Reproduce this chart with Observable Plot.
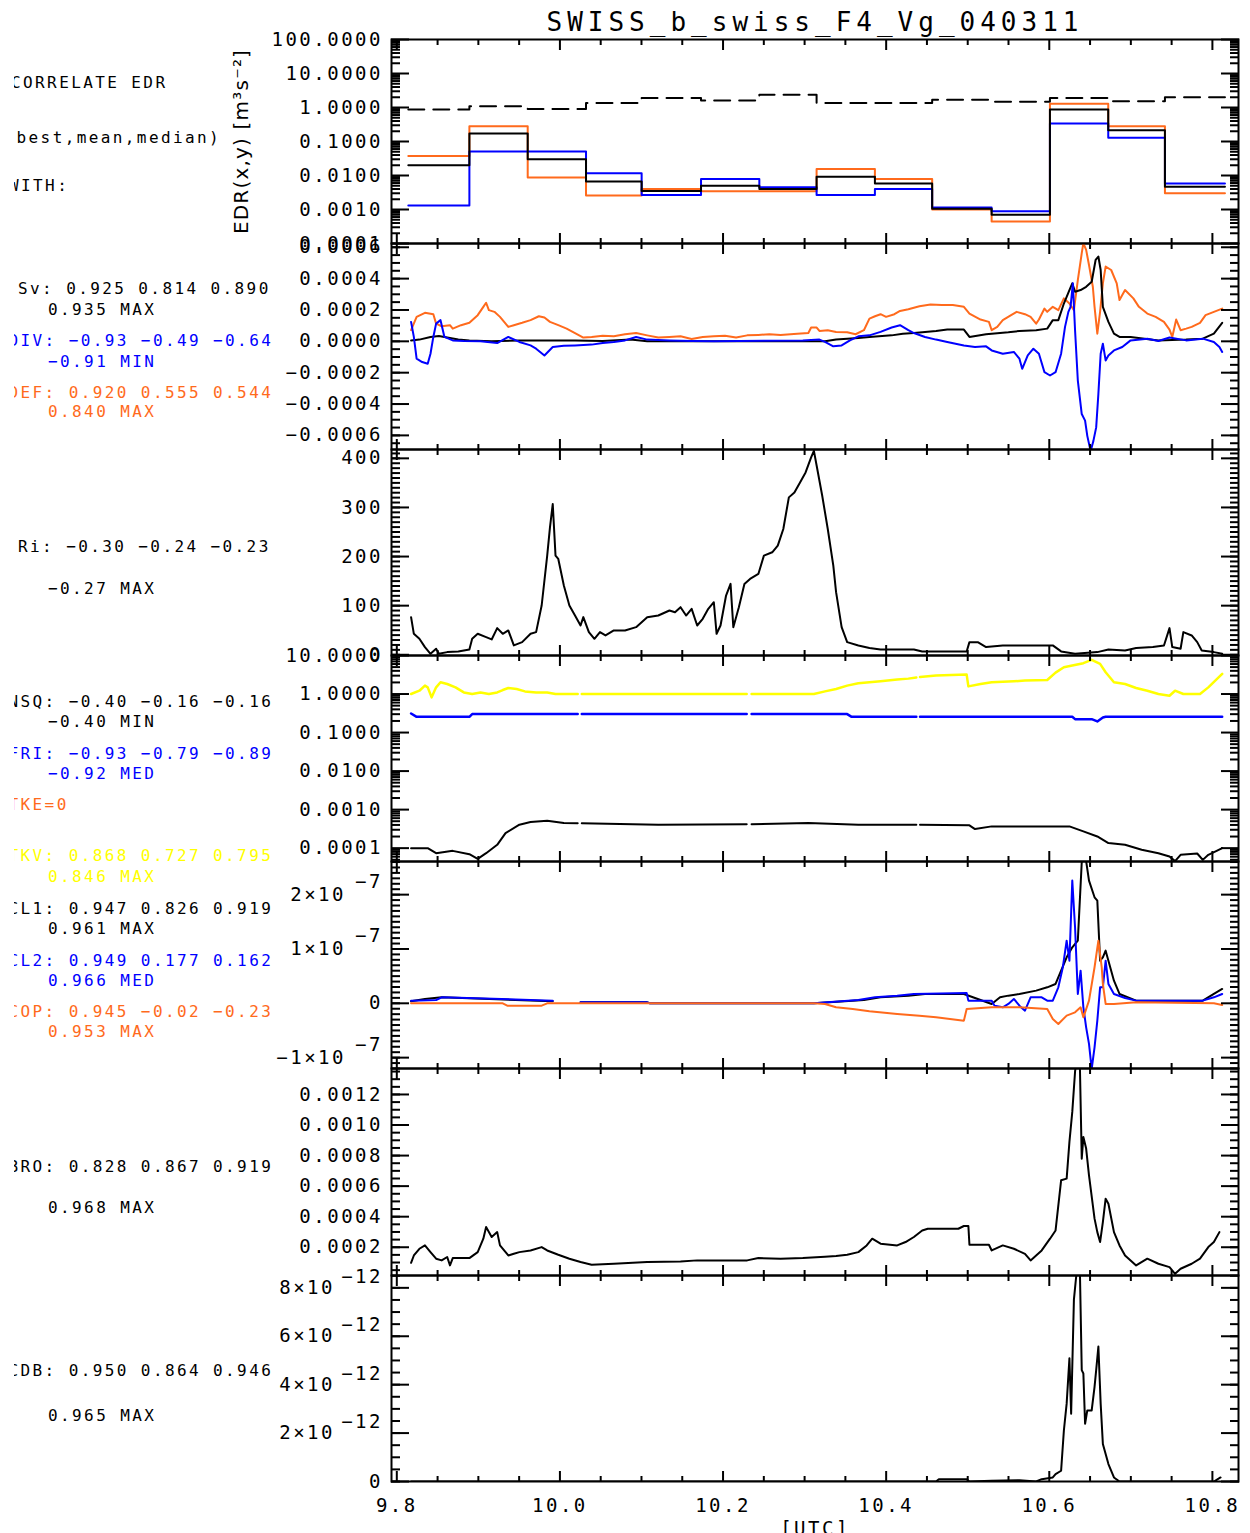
<!DOCTYPE html>
<html>
<head>
<meta charset="utf-8">
<script src="https://cdn.jsdelivr.net/npm/d3@7"></script>
<script src="https://cdn.jsdelivr.net/npm/@observablehq/plot@0.6"></script>
<style>
  html, body { margin: 0; padding: 0; background: #fff; }
  #fig { position: relative; width: 1250px; height: 1533px; overflow: hidden; background: #fff; }
  #fig svg { position: absolute; left: 0; top: 0; }
</style>
</head>
<body>
<div id="fig"></div>
<script>
// ---------- page geometry ----------
const W = 1250, H = 1533;
const FRAME_LEFT = 391, FRAME_RIGHT = 1238;
const X_DOMAIN = [9.7935, 10.832];

const BLACK = "#000000", BLUE = "#0000ff", ORANGE = "#ff6a1c", YELLOW = "#ffff00";
const MONO = "'DejaVu Sans Mono', 'Liberation Mono', monospace";

// ---------- time axis ----------
const xMajor = [9.8, 10.0, 10.2, 10.4, 10.6, 10.8];
const xMinor = [9.85, 9.9, 9.95, 10.05, 10.1, 10.15, 10.25, 10.3, 10.35, 10.45, 10.5, 10.55, 10.65, 10.7, 10.75];

const titleText = "SWISS_b_swiss_F4_Vg_040311";
const xTitle = "[UTC]";
const edrLabel = "EDR(x,y) [m³s⁻²]";

// ---------- panel 1: EDR per averaging bin ----------
const binEdges = [9.8141, 9.889, 9.9605, 10.032, 10.1002, 10.173, 10.2445, 10.3147, 10.3862, 10.4564, 10.5293, 10.6008, 10.6723, 10.7418, 10.8154];
const edrOrange = [0.0377, 0.283, 0.0088, 0.00257, 0.00401, 0.00343, 0.00343, 0.0154, 0.00785, 0.0010, 0.000447, 1.30, 0.283, 0.0030];
const edrBlack  = [0.0201, 0.173, 0.0301, 0.00671, 0.0035, 0.00501, 0.0040, 0.00918, 0.00586, 0.00105, 0.0007, 0.867, 0.216, 0.00469];
const edrBlue   = [0.00131, 0.0504, 0.0504, 0.0117, 0.00268, 0.00785, 0.00449, 0.00268, 0.0040, 0.00114, 0.00089, 0.338, 0.129, 0.00586];
const edrDashed = [0.867, 1.08, 0.906, 1.36, 1.90, 1.62, 2.37, 1.36, 1.36, 1.70, 1.48, 1.90, 1.52, 1.99];

// ---------- panel 2: Sv / DIV / DEF  (units of 1e-4) ----------
const svBlack = [[9.8175,0.06],[9.8277,0.11],[9.8413,0.28],[9.8516,0.34],[9.8618,0.24],[9.8754,0.11],[9.8890,0.06],[9.9163,0.0],[9.9503,0.06],[9.9844,0.06],[10.0185,0.06],[10.0525,0.02],[10.0866,0.11],[10.1070,0.0],[10.3250,0.0],[10.3386,0.11],[10.3659,0.21],[10.3795,0.28],[10.4067,0.38],[10.4204,0.49],[10.4340,0.53],[10.4612,0.66],[10.4749,0.75],[10.4953,0.75],[10.5021,0.28],[10.5225,0.45],[10.5294,0.49],[10.5498,0.58],[10.5634,0.66],[10.5839,0.71],[10.5975,0.81],[10.6043,1.35],[10.6111,1.35],[10.6179,2.41],[10.6247,3.27],[10.6282,3.70],[10.6316,3.16],[10.6384,3.27],[10.6452,3.48],[10.6520,3.80],[10.6568,5.19],[10.6602,5.41],[10.6630,4.55],[10.6657,2.20],[10.6725,1.24],[10.6793,0.49],[10.6861,0.28],[10.6997,0.28],[10.7338,0.06],[10.7678,0.11],[10.7882,0.17],[10.8018,0.49],[10.8120,1.18]];
const divBlue = [[9.8175,1.24],[9.8209,0.28],[9.8243,-1.11],[9.8311,-1.32],[9.8379,-1.43],[9.8413,-0.79],[9.8448,0.28],[9.8482,1.13],[9.8536,1.35],[9.8584,0.28],[9.8686,0.06],[9.8822,0.02],[9.9026,0.0],[9.9231,-0.11],[9.9367,0.28],[9.9503,-0.04],[9.9640,-0.26],[9.9708,-0.47],[9.9810,-0.90],[9.9912,-0.36],[10.0048,-0.28],[10.0185,-0.26],[10.0389,-0.21],[10.0525,-0.11],[10.0661,-0.04],[10.0798,0.06],[10.0934,0.28],[10.1070,0.11],[10.1343,0.06],[10.1615,0.02],[10.1887,0.0],[10.2978,0.06],[10.3182,0.11],[10.3250,-0.04],[10.3352,-0.32],[10.3454,-0.26],[10.3556,0.06],[10.3659,0.32],[10.3795,0.38],[10.3931,0.60],[10.4067,0.88],[10.4170,1.03],[10.4272,0.71],[10.4340,0.53],[10.4476,0.28],[10.4612,0.11],[10.4749,-0.04],[10.4953,-0.26],[10.5089,-0.36],[10.5225,-0.32],[10.5294,-0.58],[10.5430,-0.79],[10.5566,-0.68],[10.5634,-1.11],[10.5668,-1.75],[10.5736,-0.90],[10.5805,-0.47],[10.5873,-0.79],[10.5941,-1.97],[10.6009,-2.18],[10.6077,-1.97],[10.6145,-0.79],[10.6193,0.92],[10.6234,1.88],[10.6261,2.20],[10.6289,3.70],[10.6316,0.71],[10.6350,-2.50],[10.6398,-4.64],[10.6439,-5.06],[10.6466,-6.03],[10.6507,-7.0],[10.6541,-6.35],[10.6575,-5.49],[10.6602,-3.35],[10.6630,-0.79],[10.6657,-0.15],[10.6691,-1.22],[10.6725,-0.90],[10.6793,-0.58],[10.6895,-0.36],[10.6997,0.06],[10.7202,0.17],[10.7338,0.02],[10.7474,0.24],[10.7678,0.06],[10.7882,0.17],[10.8018,-0.04],[10.8086,-0.36],[10.8120,-0.68]];
const defOrange = [[9.8175,0.71],[9.8243,1.56],[9.8345,1.82],[9.8448,1.73],[9.8482,1.13],[9.8550,0.96],[9.8652,1.03],[9.8686,0.81],[9.8788,1.03],[9.8890,1.18],[9.8992,1.67],[9.9061,2.20],[9.9095,2.46],[9.9129,1.99],[9.9197,1.88],[9.9265,1.56],[9.9367,0.92],[9.9435,1.03],[9.9537,1.18],[9.9640,1.35],[9.9742,1.60],[9.9810,1.52],[9.9878,1.24],[9.9980,1.03],[10.0082,0.81],[10.0185,0.53],[10.0287,0.24],[10.0389,0.28],[10.0525,0.36],[10.0661,0.32],[10.0798,0.45],[10.0934,0.53],[10.1070,0.38],[10.1206,0.24],[10.1343,0.28],[10.1479,0.32],[10.1615,0.15],[10.1751,0.28],[10.1887,0.32],[10.2024,0.36],[10.2160,0.24],[10.2296,0.38],[10.2433,0.41],[10.2569,0.45],[10.2705,0.41],[10.2910,0.49],[10.3046,0.53],[10.3080,0.88],[10.3148,0.88],[10.3182,0.66],[10.3284,0.71],[10.3386,0.60],[10.3522,0.58],[10.3625,0.45],[10.3727,0.71],[10.3795,1.45],[10.3863,1.60],[10.3931,1.73],[10.3999,1.56],[10.4101,1.73],[10.4170,1.94],[10.4272,2.05],[10.4408,2.24],[10.4544,2.35],[10.4681,2.31],[10.4817,2.31],[10.4953,2.20],[10.5021,1.77],[10.5157,1.39],[10.5260,1.24],[10.5294,0.71],[10.5362,0.92],[10.5430,1.35],[10.5532,1.67],[10.5600,1.88],[10.5702,1.73],[10.5771,1.56],[10.5839,1.13],[10.5873,1.39],[10.5941,2.09],[10.5975,1.88],[10.6043,2.20],[10.6111,1.99],[10.6179,2.74],[10.6247,2.41],[10.6302,1.99],[10.6350,3.91],[10.6398,5.62],[10.6418,6.26],[10.6452,5.83],[10.6487,4.87],[10.6534,3.48],[10.6555,2.20],[10.6589,0.49],[10.6623,1.88],[10.6657,3.70],[10.6691,4.77],[10.6759,4.55],[10.6827,3.70],[10.6861,2.63],[10.6929,3.27],[10.7031,2.74],[10.7099,2.20],[10.7202,1.77],[10.7304,1.56],[10.7406,1.24],[10.7474,0.75],[10.7508,0.28],[10.7556,1.39],[10.7610,0.71],[10.7678,0.81],[10.7746,0.92],[10.7848,1.18],[10.7916,1.67],[10.8018,1.88],[10.8120,2.09]];

// ---------- panel 3: Richardson number ----------
const riBlack = [[9.8175,76.6],[9.8209,42.7],[9.8277,32.5],[9.8345,15.6],[9.8413,2.0],[9.8482,12.2],[9.8516,2.0],[9.8618,5.4],[9.8754,6.8],[9.8890,10.8],[9.8924,32.5],[9.8992,42.7],[9.9095,35.9],[9.9163,31.2],[9.9231,54.2],[9.9299,42.7],[9.9367,49.5],[9.9435,19.0],[9.9537,25.7],[9.9640,42.7],[9.9708,46.1],[9.9776,100.3],[9.9844,201.9],[9.9878,259.5],[9.9912,306.9],[9.9946,201.9],[9.9980,195.1],[10.0048,140.9],[10.0116,100.3],[10.0185,79.9],[10.0253,59.6],[10.0287,76.6],[10.0355,46.1],[10.0423,32.5],[10.0491,46.1],[10.0559,39.3],[10.0661,49.5],[10.0798,49.5],[10.0934,56.2],[10.1070,76.6],[10.1206,79.9],[10.1343,90.1],[10.1411,86.7],[10.1479,96.9],[10.1547,79.9],[10.1615,93.5],[10.1683,59.6],[10.1751,73.2],[10.1819,93.5],[10.1887,107.0],[10.1921,42.7],[10.1969,59.6],[10.2037,120.6],[10.2092,144.3],[10.2126,56.2],[10.2194,96.9],[10.2262,144.3],[10.2331,154.5],[10.2433,164.6],[10.2501,201.9],[10.2603,208.7],[10.2671,222.2],[10.2739,256.1],[10.2807,320.5],[10.2875,330.6],[10.2944,351.0],[10.3012,371.3],[10.3080,401.8],[10.3114,415.3],[10.3148,384.8],[10.3216,323.8],[10.3284,256.1],[10.3352,181.6],[10.3386,127.4],[10.3454,56.2],[10.3522,25.7],[10.3659,19.0],[10.3795,13.6],[10.3931,10.8],[10.4340,10.8],[10.4442,6.8],[10.4987,6.8],[10.5021,25.7],[10.5123,25.7],[10.5225,15.6],[10.5430,19.0],[10.5702,19.0],[10.6043,19.0],[10.6145,6.8],[10.6316,2.0],[10.6589,5.4],[10.6725,10.8],[10.6929,8.8],[10.7065,13.6],[10.7270,15.6],[10.7406,19.0],[10.7474,54.2],[10.7508,15.6],[10.7610,12.2],[10.7644,46.1],[10.7746,39.3],[10.7814,25.7],[10.7869,8.8],[10.8018,5.4],[10.8120,2.0]];

// ---------- panel 4: NSQ / FRI / TKV  (NaN marks a data gap) ----------
const tkvYellow = [[9.8175,1.0],[9.8277,1.22],[9.8345,1.65],[9.8379,1.49],[9.8427,0.82],[9.8482,1.49],[9.8536,2.02],[9.8618,1.82],[9.8720,1.49],[9.8822,1.10],[9.8924,1.0],[9.9026,1.10],[9.9129,1.0],[9.9231,1.10],[9.9299,1.27],[9.9367,1.43],[9.9469,1.35],[9.9571,1.17],[9.9708,1.10],[9.9844,1.10],[9.9946,1.0],[10.0218,1.0],[10.024,NaN],[10.0268,1.0],[10.2290,1.0],[10.232,NaN],[10.2350,1.0],[10.3114,1.0],[10.3250,1.17],[10.3386,1.35],[10.3522,1.65],[10.3659,1.90],[10.3795,2.02],[10.3931,2.14],[10.4135,2.37],[10.4272,2.51],[10.4370,2.70],[10.439,NaN],[10.4415,2.75],[10.4612,3.01],[10.4987,3.19],[10.5008,1.58],[10.5157,1.82],[10.5294,2.02],[10.5566,2.14],[10.5702,2.23],[10.5975,2.32],[10.6077,3.60],[10.6179,4.96],[10.6282,5.48],[10.6418,6.31],[10.6520,7.71],[10.6623,6.06],[10.6691,3.67],[10.6793,2.02],[10.6929,1.82],[10.7065,1.43],[10.7202,1.22],[10.7338,1.0],[10.7474,0.905],[10.7542,1.22],[10.7644,1.0],[10.7848,1.0],[10.7950,1.49],[10.8120,3.32]];
const friBlue = [[9.8175,0.313],[9.8243,0.256],[9.8890,0.256],[9.8924,0.301],[10.0218,0.301],[10.024,NaN],[10.0268,0.301],[10.2290,0.301],[10.232,NaN],[10.2350,0.301],[10.3522,0.301],[10.3577,0.256],[10.4370,0.256],[10.439,NaN],[10.4415,0.256],[10.6282,0.256],[10.6316,0.223],[10.6520,0.223],[10.6589,0.194],[10.6657,0.246],[10.6691,0.256],[10.8120,0.256]];
const nsqBlack = [[9.8175,1.0e-4],[9.8379,1.0e-4],[9.8482,7.4e-5],[9.8686,8.5e-5],[9.8890,6.97e-5],[9.8992,5.27e-5],[9.9095,7.4e-5],[9.9231,1.22e-4],[9.9333,2.46e-4],[9.9503,4.06e-4],[9.9640,4.77e-4],[9.9844,5.16e-4],[10.0048,4.49e-4],[10.0218,4.45e-4],[10.024,NaN],[10.0268,4.45e-4],[10.1206,4.06e-4],[10.2290,4.2e-4],[10.232,NaN],[10.2350,4.2e-4],[10.3046,4.49e-4],[10.3659,4.06e-4],[10.4370,4.06e-4],[10.439,NaN],[10.4415,4.06e-4],[10.5021,3.9e-4],[10.5089,3.13e-4],[10.5294,3.67e-4],[10.6247,3.67e-4],[10.6418,2.72e-4],[10.6589,2.01e-4],[10.6725,1.35e-4],[10.6929,1.22e-4],[10.7133,9.05e-5],[10.7338,7.4e-5],[10.7474,6.07e-5],[10.7542,4.6e-5],[10.7610,6.7e-5],[10.7814,7.26e-5],[10.7882,4.96e-5],[10.7950,6.7e-5],[10.8052,8.5e-5],[10.8120,1.0e-4]];

// ---------- panel 5: CL1 / CL2 / COP  (units of 1e-7) ----------
const cl1Black = [[9.8175,0.037],[9.8345,0.080],[9.8550,0.110],[9.9912,0.037],[9.9946,NaN],[10.0253,0.018],[10.1070,0.018],[10.1104,0],[10.3114,0],[10.3727,0.061],[10.3931,0.110],[10.4272,0.141],[10.4476,0.172],[10.4953,0.172],[10.5294,-0.012],[10.5396,0.110],[10.5498,0.141],[10.5634,0.172],[10.5839,0.233],[10.5975,0.294],[10.6077,0.356],[10.6145,0.601],[10.6213,0.847],[10.6282,1.031],[10.6350,1.153],[10.6398,2.595],[10.6439,2.75],[10.6487,2.258],[10.6555,1.951],[10.6589,1.890],[10.6623,0.785],[10.6657,0.847],[10.6691,0.969],[10.6725,0.785],[10.6793,0.417],[10.6861,0.172],[10.7065,0.049],[10.7882,0.049],[10.8018,0.172],[10.8120,0.264]];
const cl2Blue = [[9.8175,0.049],[9.8482,0.061],[9.8550,0.110],[9.9912,0.049],[9.9946,NaN],[10.0253,0.018],[10.1070,0.018],[10.1104,0],[10.3114,0],[10.3659,0.061],[10.3863,0.110],[10.4135,0.141],[10.4340,0.172],[10.4987,0.190],[10.5008,0.049],[10.5294,0.049],[10.5328,-0.043],[10.5430,-0.074],[10.5498,-0.012],[10.5566,0.080],[10.5634,-0.043],[10.5702,-0.135],[10.5771,0.110],[10.5907,0.110],[10.5975,0.049],[10.6043,0.049],[10.6111,0.294],[10.6166,0.663],[10.6213,1.153],[10.6247,0.785],[10.6282,2.258],[10.6316,1.399],[10.6350,0.172],[10.6384,0.601],[10.6418,-0.074],[10.6452,-0.442],[10.6487,-0.748],[10.6520,-1.209],[10.6555,-0.810],[10.6589,-0.319],[10.6623,0.294],[10.6657,0.294],[10.6691,0.785],[10.6725,0.356],[10.6793,0.172],[10.6929,0.098],[10.7065,0.049],[10.7882,0.049],[10.8018,0.110],[10.8120,0.172]];
const copOrange = [[9.8175,0],[9.9299,0],[9.9354,-0.043],[9.9776,-0.043],[9.9844,0],[10.3114,0],[10.3250,-0.012],[10.3386,-0.074],[10.3591,-0.104],[10.3795,-0.147],[10.4135,-0.196],[10.4408,-0.227],[10.4612,-0.258],[10.4953,-0.319],[10.4987,-0.104],[10.5294,-0.074],[10.5634,-0.074],[10.5975,-0.104],[10.6043,-0.288],[10.6111,-0.380],[10.6213,-0.227],[10.6316,-0.166],[10.6384,-0.074],[10.6418,-0.258],[10.6487,0.049],[10.6555,0.663],[10.6602,1.153],[10.6643,0.663],[10.6657,0.356],[10.6691,-0.012],[10.6793,-0.012],[10.7065,0.018],[10.8018,0],[10.8120,-0.031]];

// ---------- panel 6: BRO  (units of 1e-4) ----------
const broBlack = [[9.8175,0.98],[9.8209,1.46],[9.8277,1.90],[9.8345,2.12],[9.8413,1.68],[9.8482,1.25],[9.8550,1.14],[9.8618,1.36],[9.8652,0.81],[9.8686,1.29],[9.8890,1.29],[9.8992,1.68],[9.9061,2.56],[9.9095,3.32],[9.9163,2.67],[9.9231,2.99],[9.9265,2.12],[9.9367,1.46],[9.9435,1.57],[9.9503,1.68],[9.9640,1.79],[9.9776,2.01],[9.9844,1.79],[9.9980,1.51],[10.0116,1.25],[10.0253,1.03],[10.0389,0.85],[10.0661,0.92],[10.1070,1.03],[10.1479,1.07],[10.1683,1.14],[10.2296,1.14],[10.2433,1.29],[10.2705,1.25],[10.2978,1.29],[10.3250,1.38],[10.3386,1.42],[10.3522,1.51],[10.3659,1.68],[10.3761,2.12],[10.3829,2.56],[10.3931,2.23],[10.4135,2.12],[10.4238,2.34],[10.4340,2.67],[10.4442,3.10],[10.4510,3.21],[10.4885,3.21],[10.4953,3.39],[10.5008,3.39],[10.5021,2.16],[10.5260,2.16],[10.5294,1.79],[10.5430,2.12],[10.5566,1.90],[10.5702,1.57],[10.5771,1.14],[10.5839,1.46],[10.5907,1.79],[10.6009,2.56],[10.6077,3.10],[10.6145,6.38],[10.6213,6.49],[10.6247,8.90],[10.6282,10.86],[10.6316,13.49],[10.6350,15.0],[10.6371,15.0],[10.6398,7.80],[10.6418,9.22],[10.6452,8.46],[10.6487,6.71],[10.6555,3.87],[10.6589,2.99],[10.6623,2.34],[10.6657,3.65],[10.6691,5.18],[10.6725,4.85],[10.6793,2.99],[10.6861,2.12],[10.6929,1.46],[10.7065,0.81],[10.7202,1.25],[10.7338,0.92],[10.7474,0.70],[10.7542,0.26],[10.7610,0.59],[10.7746,0.92],[10.7848,1.25],[10.7950,2.01],[10.8018,2.34],[10.8086,2.99]];

// ---------- panel 7: CDB  (units of 1e-12) ----------
const cdbBlack = [[9.8175,0],[10.4612,0],[10.4646,0.097],[10.4987,0.097],[10.5021,0],[10.5294,0.028],[10.5634,0.055],[10.5839,0],[10.5907,0.097],[10.6043,0.166],[10.6077,0.305],[10.6145,0.444],[10.6179,2.107],[10.6213,3.216],[10.6247,5.087],[10.6268,2.800],[10.6302,7.512],[10.6330,8.48],[10.6350,9.5],[10.6371,9.5],[10.6398,4.602],[10.6418,4.463],[10.6439,2.384],[10.6466,2.938],[10.6520,2.938],[10.6555,3.909],[10.6575,4.602],[10.6602,5.572],[10.6630,3.216],[10.6657,1.552],[10.6725,0.721],[10.6793,0.166],[10.6861,0],[10.8018,0],[10.8100,0.166]];

// ---------- correlation notes on the left ----------
const notes = [
  ["CORRELATE EDR", 11, 82, BLACK],
  ["(best,mean,median)", 4.5, 137, BLACK],
  ["WITH:", 9, 185, BLACK],
  ["Sv: 0.925 0.814 0.890", 18, 288, BLACK],
  ["0.935 MAX", 48, 309, BLACK],
  ["DIV: −0.93 −0.49 −0.64", 8.5, 340, BLUE],
  ["−0.91 MIN", 48, 361.5, BLUE],
  ["DEF: 0.920 0.555 0.544", 8.5, 392.5, ORANGE],
  ["0.840 MAX", 48, 411.5, ORANGE],
  ["Ri: −0.30 −0.24 −0.23", 18, 546, BLACK],
  ["−0.27 MAX", 48, 588, BLACK],
  ["NSQ: −0.40 −0.16 −0.16", 8.5, 701.5, BLACK],
  ["−0.40 MIN", 48, 721.5, BLACK],
  ["FRI: −0.93 −0.79 −0.89", 8.5, 753, BLUE],
  ["−0.92 MED", 48, 773, BLUE],
  ["TKE=0", 8.5, 804, ORANGE],
  ["TKV: 0.868 0.727 0.795", 8.5, 855, YELLOW],
  ["0.846 MAX", 48, 876.5, YELLOW],
  ["CL1: 0.947 0.826 0.919", 8.5, 908, BLACK],
  ["0.961 MAX", 48, 928, BLACK],
  ["CL2: 0.949 0.177 0.162", 8.5, 960, BLUE],
  ["0.966 MED", 48, 980, BLUE],
  ["COP: 0.945 −0.02 −0.23", 8.5, 1011.5, ORANGE],
  ["0.953 MAX", 48, 1031.5, ORANGE],
  ["BRO: 0.828 0.867 0.919", 8.5, 1166, BLACK],
  ["0.968 MAX", 48, 1207, BLACK],
  ["CDB: 0.950 0.864 0.946", 8.5, 1370, BLACK],
  ["0.965 MAX", 48, 1415, BLACK]
];

// ---------- helpers ----------
const pts = (arr, unit = 1) => arr.map(([x, y]) => ({x, y: y * unit}));
const steps = (vals) => [...vals.map((v, i) => ({x: binEdges[i], y: v})), {x: binEdges[vals.length], y: vals[vals.length - 1]}];
const signed = (s) => s.replace("-", "−");
const logMinor = (decades, from = 2) => decades.flatMap(d => d3.range(from, 10).map(k => k * d));
const linMinor = (lo, hi, step) => d3.range(Math.ceil(lo / step - 1e-9), Math.floor(hi / step + 1e-9) + 1).map(i => i * step);

const lineOpts = (color, w = 2) => ({x: "x", y: "y", stroke: color, strokeWidth: w, clip: true});

function frameAxes(p) {
  const common = {fill: "none", label: null, strokeWidth: 2};
  return [
    Plot.axisX(xMajor, {anchor: "bottom", tickSize: -10, ...common}),
    Plot.axisX(xMinor, {anchor: "bottom", tickSize: -5, ...common}),
    Plot.axisX(xMajor, {anchor: "top", tickSize: -10, ...common}),
    Plot.axisX(xMinor, {anchor: "top", tickSize: -5, ...common}),
    Plot.axisY(p.major, {anchor: "left", tickSize: -18, ...common}),
    Plot.axisY(p.minor, {anchor: "left", tickSize: -9, ...common}),
    Plot.axisY(p.major, {anchor: "right", tickSize: -18, ...common}),
    Plot.axisY(p.minor, {anchor: "right", tickSize: -9, ...common}),
    Plot.frame({strokeWidth: 2})
  ];
}

function panel(p, marks) {
  return Plot.plot({
    width: W, height: H,
    marginLeft: FRAME_LEFT, marginRight: W - FRAME_RIGHT,
    marginTop: p.top, marginBottom: H - p.bottom,
    style: {background: "none", overflow: "visible", fontFamily: MONO, fontSize: "19px", letterSpacing: "2.5px", color: "#000"},
    x: {domain: X_DOMAIN},
    y: {type: p.type || "linear", domain: p.domain},
    marks: [...marks, ...frameAxes(p)]
  });
}

const yLabels = (ticks, fmt, pad = 8.5, extra = {}) =>
  Plot.axisY(ticks, {anchor: "left", tickSize: 0, tickPadding: pad, tickFormat: fmt, label: null, ...extra});

// ---------- panels ----------
const p1 = {top: 39, bottom: 243, type: "log", domain: [1e-4, 100],
  major: [1e-4, 1e-3, 1e-2, 0.1, 1, 10, 100], minor: logMinor([1e-4, 1e-3, 1e-2, 0.1, 1, 10])};
const p2 = {top: 243, bottom: 449, domain: [-0.00069, 0.000624],
  major: [-0.0006, -0.0004, -0.0002, 0, 0.0002, 0.0004, 0.0006], minor: linMinor(-0.00069, 0.000624, 0.00005)};
const p3 = {top: 449, bottom: 655, domain: [-1.5, 418],
  major: [0, 100, 200, 300, 400], minor: linMinor(0, 418, 10)};
const p4 = {top: 655, bottom: 861, type: "log", domain: [4.5e-5, 10],
  major: [1e-4, 1e-3, 1e-2, 0.1, 1, 10], minor: [...logMinor([1e-5], 5), ...logMinor([1e-4, 1e-3, 1e-2, 0.1, 1])]};
const p5 = {top: 861, bottom: 1068, domain: [-1.2e-7, 2.61e-7],
  major: [-1e-7, 0, 1e-7, 2e-7], minor: linMinor(-1.2e-7, 2.61e-7, 1e-8)};
const p6 = {top: 1068, bottom: 1275, domain: [0.000015, 0.00137],
  major: [0.0002, 0.0004, 0.0006, 0.0008, 0.0010, 0.0012], minor: linMinor(0.000015, 0.00137, 0.00005)};
const p7 = {top: 1275, bottom: 1481, domain: [0, 8.51e-12],
  major: [0, 2e-12, 4e-12, 6e-12, 8e-12], minor: linMinor(0, 8.51e-12, 5e-13)};

const fix4 = d => signed(d.toFixed(4));
const sciMant5 = {"2e-7": "2×10", "1e-7": "1×10", "-1e-7": "−1×10"};
const sciMant7 = {"2e-12": "2×10", "4e-12": "4×10", "6e-12": "6×10", "8e-12": "8×10"};

const svgs = [
  panel(p1, [
    Plot.line(steps(edrDashed), {...lineOpts(BLACK), curve: "step-after", strokeDasharray: "16,9"}),
    Plot.line(steps(edrOrange), {...lineOpts(ORANGE), curve: "step-after"}),
    Plot.line(steps(edrBlue), {...lineOpts(BLUE), curve: "step-after"}),
    Plot.line(steps(edrBlack), {...lineOpts(BLACK), curve: "step-after"}),
    yLabels(p1.major, fix4),
    Plot.text([edrLabel], {text: d => d, frameAnchor: "left", textAnchor: "middle", lineAnchor: "middle", dx: -150, rotate: -90, fontFamily: "'DejaVu Sans', sans-serif", fontSize: 20}),
    Plot.text([titleText], {text: d => d, frameAnchor: "top", lineAnchor: "top", dy: -27, fontSize: 26})
  ]),
  panel(p2, [
    Plot.line(pts(defOrange, 1e-4), lineOpts(ORANGE)),
    Plot.line(pts(svBlack, 1e-4), lineOpts(BLACK)),
    Plot.line(pts(divBlue, 1e-4), lineOpts(BLUE)),
    yLabels(p2.major, fix4)
  ]),
  panel(p3, [
    Plot.line(pts(riBlack), lineOpts(BLACK)),
    yLabels(p3.major, d => String(d))
  ]),
  panel(p4, [
    Plot.line(pts(tkvYellow), lineOpts(YELLOW, 2.5)),
    Plot.line(pts(friBlue), lineOpts(BLUE, 2.5)),
    Plot.line(pts(nsqBlack), lineOpts(BLACK)),
    yLabels(p4.major, fix4)
  ]),
  panel(p5, [
    Plot.line(pts(cl1Black, 1e-7), lineOpts(BLACK)),
    Plot.line(pts(cl2Blue, 1e-7), lineOpts(BLUE)),
    Plot.line(pts(copOrange, 1e-7), lineOpts(ORANGE)),
    yLabels([0], () => "0"),
    yLabels([-1e-7, 1e-7, 2e-7], d => sciMant5[String(d)], 45.5),
    yLabels([-1e-7, 1e-7, 2e-7], () => "−7", 8.5, {dy: -13})
  ]),
  panel(p6, [
    Plot.line(pts(broBlack, 1e-4), lineOpts(BLACK)),
    yLabels(p6.major, fix4)
  ]),
  panel(p7, [
    Plot.line(pts(cdbBlack, 1e-12), lineOpts(BLACK)),
    yLabels([0], () => "0"),
    yLabels([2e-12, 4e-12, 6e-12, 8e-12], d => sciMant7[String(d)], 56.5),
    yLabels([2e-12, 4e-12, 6e-12, 8e-12], () => "−12", 8.5, {dy: -11}),
    Plot.axisX(xMajor, {anchor: "bottom", tickSize: 0, tickPadding: 17, tickFormat: d => d.toFixed(1), label: null}),
    Plot.text([xTitle], {text: d => d, frameAnchor: "bottom", dy: 40, lineAnchor: "top"})
  ])
];

const fig = document.getElementById("fig");
for (const s of svgs) fig.appendChild(s);

// title and rotated unit label use their own spacing
d3.selectAll("#fig text").each(function () {
  const t = this.textContent;
  if (t === titleText) d3.select(this).style("letter-spacing", "5px");
  if (t === edrLabel) d3.select(this).style("letter-spacing", "1.2px");
});

// correlation notes, cut off at the left edge of the page area
const notesSvg = d3.create("svg").attr("width", W).attr("height", H)
  .style("position", "absolute").style("left", "0").style("top", "0");
notesSvg.append("defs").append("clipPath").attr("id", "notes-clip")
  .append("rect").attr("x", 14).attr("y", 0).attr("width", 370).attr("height", H);
notesSvg.append("g").attr("clip-path", "url(#notes-clip)")
  .selectAll("text").data(notes).join("text")
  .attr("x", d => d[1]).attr("y", d => d[2])
  .attr("dominant-baseline", "central")
  .attr("fill", d => d[3])
  .style("font-family", MONO).style("font-size", "16px").style("letter-spacing", "2.4px")
  .style("white-space", "pre")
  .text(d => d[0]);
fig.appendChild(notesSvg.node());
</script>
</body>
</html>
